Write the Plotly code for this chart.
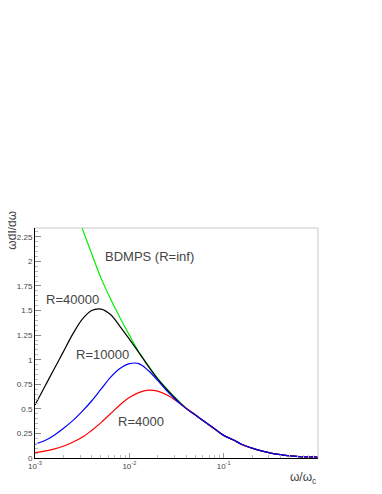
import plotly.graph_objects as go

# log10(omega/omega_c) grid positions at which the curves were read
log_omega = [-3.0, -2.9, -2.8, -2.7, -2.6, -2.5, -2.4, -2.3, -2.2, -2.1, -2.0,
             -1.9, -1.8, -1.7, -1.6, -1.5, -1.4, -1.3, -1.2, -1.1, -1.0,
             -0.9, -0.8, -0.7, -0.6, -0.5, -0.4, -0.3, -0.2, -0.1, 0.0]
omega = [10 ** v for v in log_omega]

# BDMPS (R=inf): values above the axis top are clipped
bdmps = [None, None, None, None, 2.62, 2.34, 2.08, 1.83, 1.62, 1.43, 1.25,
         1.08, 0.94, 0.81, 0.70, 0.60, 0.51, 0.44, 0.37, 0.30, 0.23,
         0.185, 0.135, 0.10, 0.073, 0.05, 0.034, 0.022, 0.015, 0.011, 0.008]
r40000 = [0.54, 0.72, 0.90, 1.08, 1.26, 1.41, 1.50, 1.515, 1.46, 1.34, 1.21,
          1.075, 0.935, 0.805, 0.695, 0.595, 0.505, 0.437, 0.368, 0.30, 0.23,
          0.185, 0.135, 0.10, 0.073, 0.05, 0.034, 0.022, 0.015, 0.011, 0.008]
r10000 = [0.14, 0.175, 0.23, 0.30, 0.38, 0.475, 0.58, 0.70, 0.82, 0.91, 0.96,
          0.96, 0.89, 0.79, 0.68, 0.585, 0.505, 0.437, 0.368, 0.30, 0.23,
          0.185, 0.135, 0.10, 0.073, 0.05, 0.034, 0.022, 0.015, 0.011, 0.008]
r4000 = [0.055, 0.07, 0.09, 0.12, 0.16, 0.21, 0.28, 0.36, 0.45, 0.54, 0.615,
         0.665, 0.69, 0.68, 0.64, 0.58, 0.51, 0.44, 0.365, 0.298, 0.229,
         0.184, 0.134, 0.10, 0.073, 0.05, 0.034, 0.022, 0.015, 0.011, 0.008]

series = [("BDMPS (R=inf)", bdmps, "#00ee00"),
          ("R=40000", r40000, "#000000"),
          ("R=4000", r4000, "#ff0000"),
          ("R=10000", r10000, "#0000ff")]

fig = go.Figure()
for name, vals, col in series:
    fig.add_trace(go.Scatter(x=omega, y=vals, mode="lines", name=name,
                             line=dict(color=col, width=1.2, shape="spline", smoothing=1.0),
                             connectgaps=False))

TXT = "#444444"
FONT = "Liberation Sans, Arial, sans-serif"


def label(text, x, y, size=13, **kw):
    d = dict(text=text, xref="paper", yref="paper", x=x, y=y,
             xanchor="center", yanchor="middle", showarrow=False,
             font=dict(size=size, color=TXT))
    d.update(kw)
    return d


fig.update_layout(
    width=374, height=486,
    margin=dict(l=27, r=64, t=220, b=36),
    paper_bgcolor="white", plot_bgcolor="white",
    showlegend=False,
    font=dict(family=FONT, color=TXT),
    xaxis=dict(type="log", range=[-3, 0], showgrid=False, zeroline=False,
               showline=True, linecolor="#000000", linewidth=1,
               ticks="inside", ticklen=5, tickcolor="#999999",
               tickvals=[1e-3, 1e-2, 1e-1],
               ticktext=["10<sup>-3</sup>", "10<sup>-2</sup>", "10<sup>-1</sup>"],
               tickfont=dict(size=8, color=TXT),
               minor=dict(ticks="inside", ticklen=3, tickcolor="#bbbbbb", dtick="D1")),
    yaxis=dict(range=[0, 2.34], showgrid=False, zeroline=False,
               showline=True, linecolor="#000000", linewidth=1,
               ticks="inside", ticklen=6, tickcolor="#888888", dtick=0.25, tick0=0,
               tickfont=dict(size=8, color=TXT), automargin=False,
               minor=dict(ticks="inside", ticklen=3, tickcolor="#bbbbbb", dtick=0.05)),
    shapes=[
        dict(type="line", xref="paper", yref="paper", x0=0, x1=1, y0=1, y1=1,
             line=dict(color="#c8c8c8", width=1)),
        dict(type="line", xref="paper", yref="paper", x0=1, x1=1, y0=0, y1=1,
             line=dict(color="#c8c8c8", width=1)),
    ],
    annotations=[
        label("BDMPS (R=inf)", 0.404, 0.874),
        label("R=40000", 0.134, 0.687),
        label("R=10000", 0.240, 0.448),
        label("R=4000", 0.376, 0.157),
        label("ωdI/dω", -0.08, 0.99, size=12, textangle=-90),
        label("ω/ω<sub>c</sub>", 1.0, -0.087, size=12, xanchor="right"),
    ],
)

fig.write_html("out.html")
